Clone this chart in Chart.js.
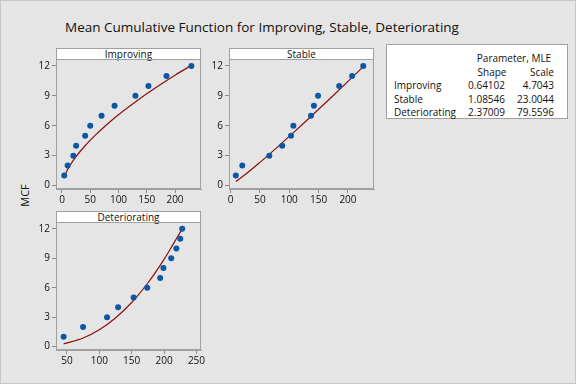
<!DOCTYPE html>
<html>
<head>
<meta charset="utf-8">
<script src="https://cdn.jsdelivr.net/npm/chart.js@4"></script>
<style>
  html, body { margin:0; padding:0; }
  body { width:576px; height:384px; overflow:hidden; font-family:"Open Sans", sans-serif; }
  #root { position:relative; width:576px; height:384px; background:#e5e5e5; box-sizing:border-box; border:1px solid #c6c6c6; }
  canvas { position:absolute; }
  .hdr { position:absolute; box-sizing:border-box; background:#fff; border:1px solid #a0a0a0; font-size:10px; line-height:11px; text-align:center; color:#111; }
  #title { position:absolute; left:0; width:522px; top:17px; text-align:center; font-size:13.5px; color:#111; }
  #ylab { position:absolute; left:8px; top:187px; font-size:11px; color:#111; transform:rotate(-90deg); transform-origin:center; width:30px; text-align:center; }
  #tbl { position:absolute; left:385px; top:43px; width:182px; height:75px; box-sizing:border-box; background:#fff; border:1px solid #a0a0a0; font-size:10px; color:#111; }
  #tbl span { position:absolute; white-space:nowrap; line-height:12px; }
</style>
</head>
<body>
<div id="root">
  <div id="title">Mean Cumulative Function for Improving, Stable, Deteriorating</div>
  <div id="ylab">MCF</div>
  <div class="hdr" style="left:55px;top:47px;width:145px;height:12px;">Improving</div>
  <div class="hdr" style="left:228px;top:47px;width:145px;height:12px;">Stable</div>
  <div class="hdr" style="left:55px;top:210px;width:145px;height:12px;">Deteriorating</div>
  <canvas id="c1" width="197" height="167" style="left:15px;top:48px;"></canvas>
  <canvas id="c2" width="197" height="167" style="left:188px;top:48px;"></canvas>
  <canvas id="c3" width="197" height="166" style="left:15px;top:211px;"></canvas>
  <div id="tbl"></div>
</div>
<script>
// ---- data ----
const mcfLevels = [1,2,3,4,5,6,7,8,9,10,11,12];
const improvingTimes = [4,10,20,25,41,50,70,93,130,153,185,229];
const stableTimes = [9,20,66,88,103,107,137,142,149,185,207,226];
const deterioratingTimes = [45,75,112,129,153,174,194,199,211,219,225,228];

// fitted power-law curves
const improvingFitT = [4,10,20,40,60,80,100,125,150,175,200,229];
const improvingFitV = [0.90,1.62,2.53,3.94,5.11,6.15,7.10,8.18,9.20,10.16,11.07,12.06];
const stableFitT = [9,25,50,75,100,125,150,175,200,226];
const stableFitV = [0.40,1.10,2.32,3.60,4.93,6.28,7.65,9.04,10.45,11.93];
const deterioratingFitT = [45,75,100,125,150,175,200,215,228];
const deterioratingFitV = [0.28,0.87,1.72,2.92,4.49,6.48,8.89,10.55,12.0];

const yTicks = [0,3,6,9,12];
const xTicksA = [0,50,100,150,200];
const xTicksB = [50,100,150,200,250];

const tableNames = ['Improving','Stable','Deteriorating'];
const tableShape = ['0.64102','1.08546','2.37009'];
const tableScale = ['4.7043','23.0044','79.5596'];

// ---- drawing ----
const FONT = {family:'"Open Sans", sans-serif', size:10};
const frame = {
  id:'frame',
  afterDraw(chart){
    const a = chart.chartArea, c = chart.ctx;
    c.save(); c.strokeStyle = '#a0a0a0'; c.lineWidth = 1;
    c.strokeRect(a.left+0.5, a.top+0.5, a.right-a.left-1, a.bottom-a.top-1);
    c.restore();
  }
};
function pts(xs, ys){ return xs.map((x,i)=>({x:x, y:ys[i]})); }
function panel(id, times, fitT, fitV, xMin, xMax, xTicks, yAxisW, xAxisH){
  new Chart(document.getElementById(id), {
    type:'scatter',
    data:{ datasets:[
      { type:'line', data:pts(fitT, fitV), borderColor:'#8a0f0f', borderWidth:1.2, pointRadius:0, fill:false, cubicInterpolationMode:'monotone', order:2 },
      { data:pts(times, mcfLevels), backgroundColor:'#0b57a6', borderWidth:0, pointRadius:3, order:1 }
    ]},
    options:{
      responsive:false, animation:false, devicePixelRatio:1,
      layout:{ padding:{top:10, right:12, left:0, bottom:0} },
      plugins:{ legend:{display:false}, tooltip:{enabled:false} },
      scales:{
        x:{ type:'linear', min:xMin, max:xMax,
            afterBuildTicks:s=>{ s.ticks = xTicks.map(v=>({value:v})); },
            afterFit:s=>{ s.height = xAxisH; },
            grid:{display:true, drawOnChartArea:false, drawTicks:true, tickLength:4, color:'#8a8a8a'},
            border:{display:true, color:'#a0a0a0'},
            ticks:{font:FONT, color:'#111', padding:1, maxRotation:0} },
        y:{ type:'linear', min:-0.35, max:12.7,
            afterBuildTicks:s=>{ s.ticks = yTicks.map(v=>({value:v})); },
            afterFit:s=>{ s.width = yAxisW; },
            grid:{display:true, drawOnChartArea:false, drawTicks:true, tickLength:4, color:'#8a8a8a'},
            border:{display:true, color:'#a0a0a0'},
            ticks:{font:FONT, color:'#111', padding:2} }
      }
    },
    plugins:[frame]
  });
}
panel('c1', improvingTimes, improvingFitT, improvingFitV, -10.6, 246, xTicksA, 40, 27);
panel('c2', stableTimes, stableFitT, stableFitV, -2.6, 244.3, xTicksA, 40, 27);
panel('c3', deterioratingTimes, deterioratingFitT, deterioratingFitV, 33.2, 257, xTicksB, 40, 28);

// parameter table
const tbl = document.getElementById('tbl');
function addText(txt, x, y, align){
  const s = document.createElement('span');
  s.textContent = txt;
  s.style.top = (y-6) + 'px';
  if (align === 'right') { s.style.right = (182 - x) + 'px'; }
  else if (align === 'center') { s.style.left = (x-60)+'px'; s.style.width='120px'; s.style.textAlign='center'; }
  else { s.style.left = x + 'px'; }
  tbl.appendChild(s);
}
addText('Parameter, MLE', 127, 13, 'center');
addText('Shape', 105, 27, 'center');
addText('Scale', 169, 27, 'right');
tableNames.forEach((n,i)=>{
  const y = 40 + i*13.7;
  addText(n, 7, y, 'left');
  addText(tableShape[i], 120, y, 'right');
  addText(tableScale[i], 169, y, 'right');
});
</script>
</body>
</html>
